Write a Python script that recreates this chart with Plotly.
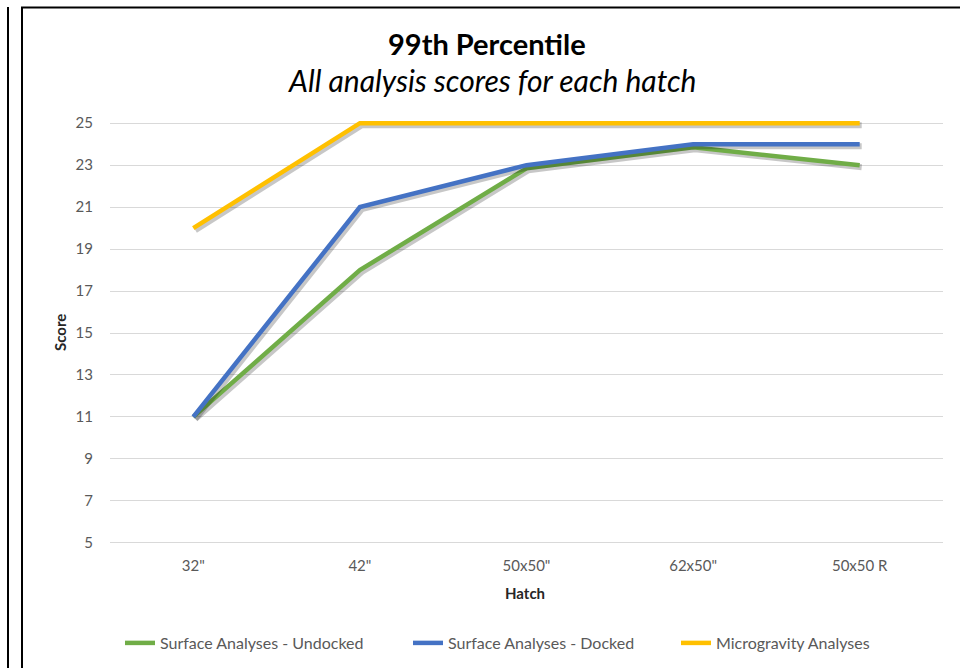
import plotly.graph_objects as go

hatches = ['32"', '42"', '50x50"', '62x50"', '50x50 R']
undocked = [11, 18, 22.85, 23.85, 23]
docked = [11, 21, 23, 24, 24]
microgravity = [20, 25, 25, 25, 25]
y_ticks = [5, 7, 9, 11, 13, 15, 17, 19, 21, 23, 25]

W, H = 960, 668
ML, MR, MT, MB = 110, 17, 119, 121
PW, PH = W - ML - MR, H - MT - MB
Y0, Y1 = 4.8, 25.2
FONT = "Lato"

def px_x(px):
    return (px - ML) / PW

def px_y(py):
    return (H - MB - py) / PH

xs = list(range(len(hatches)))
sx = 2.0 / (PW / len(hatches))
sy = 2.0 / (PH / (Y1 - Y0))

series = [
    ("Surface Analyses - Undocked", undocked, "#70AD47", "legend"),
    ("Surface Analyses - Docked", docked, "#4472C4", "legend2"),
    ("Microgravity Analyses", microgravity, "#FFC000", "legend3"),
]

fig = go.Figure()
for name, vals, color, lg in series:
    fig.add_trace(go.Scatter(
        x=[v + sx for v in xs], y=[v - sy for v in vals], mode="lines",
        line=dict(color="rgba(0,0,0,0.22)", width=6), showlegend=False,
        hoverinfo="skip"))
    fig.add_trace(go.Scatter(
        x=xs, y=vals, mode="lines", name=name, legend=lg,
        line=dict(color=color, width=4.5)))

fig.update_layout(
    width=W, height=H,
    margin=dict(l=ML, r=MR, t=MT, b=MB, pad=0, autoexpand=False),
    paper_bgcolor="white", plot_bgcolor="white",
    font=dict(family=FONT, size=15, color="#595959"),
    xaxis=dict(range=[-0.5, len(hatches) - 0.5], tickvals=xs, ticktext=hatches,
               showgrid=False, zeroline=False, showline=False, ticks="",
               automargin=False,
               ticklabelstandoff=8, tickfont=dict(size=15, color="#595959")),
    yaxis=dict(range=[Y0, Y1], tickvals=y_ticks, showgrid=True,
               gridcolor="#D9D9D9", gridwidth=1, zeroline=False,
               showline=False, ticks="", ticklabelstandoff=16, automargin=False,
               tickfont=dict(size=15, color="#595959")),
    showlegend=True,
)

leg_common = dict(orientation="h", yanchor="middle", xanchor="left",
                  bgcolor="rgba(0,0,0,0)", font=dict(size=16, color="#595959"),
                  borderwidth=0, itemwidth=30)
fig.update_layout(
    legend=dict(x=px_x(120), y=px_y(643), **leg_common),
    legend2=dict(x=px_x(408), y=px_y(643), **leg_common),
    legend3=dict(x=px_x(676), y=px_y(643), **leg_common),
)

annotations = [
    dict(text="<b>99th Percentile</b>", x=px_x(487), y=px_y(43), xref="paper",
         yref="paper", showarrow=False, xanchor="center", yanchor="middle",
         font=dict(size=29, color="#000000", family=FONT)),
    dict(text="<i>All analysis scores for each hatch</i>", x=px_x(492),
         y=px_y(80), xref="paper", yref="paper", showarrow=False,
         xanchor="center", yanchor="middle",
         font=dict(size=30, color="#000000", family=FONT)),
    dict(text="<b>Hatch</b>", x=px_x(525), y=px_y(593), xref="paper",
         yref="paper", showarrow=False, xanchor="center", yanchor="middle",
         font=dict(size=15, color="#262626", family=FONT)),
    dict(text="<b>Score</b>", x=px_x(60), y=px_y(333), xref="paper",
         yref="paper", showarrow=False, xanchor="center", yanchor="middle",
         textangle=-90, font=dict(size=15, color="#262626", family=FONT)),
]
fig.update_layout(annotations=annotations)

shapes = [
    dict(type="line", xref="paper", yref="paper", x0=px_x(8), x1=px_x(8),
         y0=px_y(7), y1=px_y(H + 2), line=dict(color="black", width=2)),
    dict(type="line", xref="paper", yref="paper", x0=px_x(22), x1=px_x(22),
         y0=px_y(7), y1=px_y(H + 2), line=dict(color="black", width=2)),
    dict(type="line", xref="paper", yref="paper", x0=px_x(21), x1=px_x(W + 2),
         y0=px_y(7.5), y1=px_y(7.5), line=dict(color="black", width=2)),
]
fig.update_layout(shapes=shapes)

fig.write_html(
    "out.html",
    config={"displayModeBar": False},
    post_script="document.body.style.margin='0';document.body.style.padding='0';",
)
